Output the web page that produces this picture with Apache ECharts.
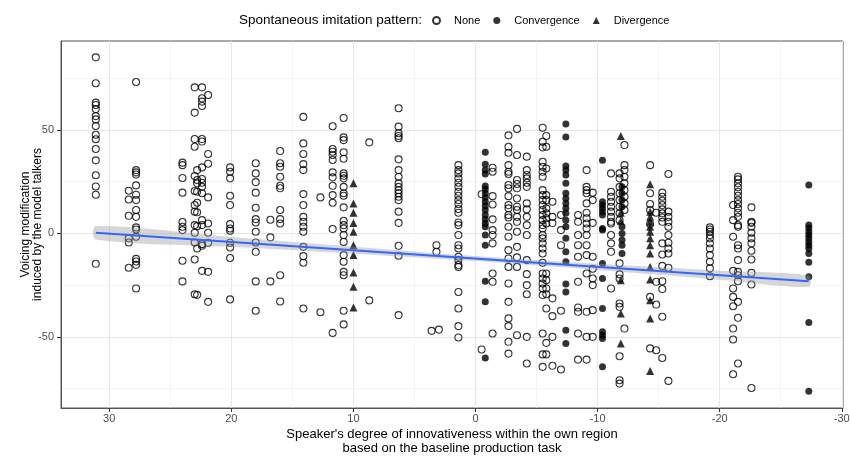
<!DOCTYPE html>
<html>
<head>
<meta charset="utf-8">
<script src="https://cdn.jsdelivr.net/npm/echarts@6/dist/echarts.min.js"></script>
<style>
  html, body { margin: 0; padding: 0; background: #fff; }
  #main { width: 850px; height: 458px; }
</style>
</head>
<body>
<div id="main"></div>
<script>
// axis ticks / gridlines
const xTicks = [30, 20, 10, 0, -10, -20, -30];
const xMinor = [25, 15, 5, -5, -15, -25];
const yTicks = [-50, 0, 50];
const yMinor = [-75, -25, 25, 75];

// "None" pattern: speaker x position, and the y values at that x
const noneX = [31.1, 27.8, 28.4, 24.0, 23.0, 22.8, 22.4, 21.9, 20.1, 18.0, 16.8, 16.0, 14.1, 12.7, 11.7, 10.8, 8.7, 6.3,
  3.6, 3.0, 3.2, 1.4, -0.5, -1.4, -2.7, -3.4, -4.2, -5.5, -5.8, -6.3, -7.0, -8.4, -9.1, -9.6, -11.1, -11.8, -12.2,
  -14.3, -14.8, -15.3, -15.8, -19.2, -21.1, -21.5, -22.6];
const noneY = [
  [85.1, 72.6, 63.2, 62.1, 60.1, 56.7, 55.1, 51.9, 47.7, 45.5, 40.8, 35.3, 28.1, 22.7, 18.7, -14.7],
  [73.2, 30.6, 29.5, 28.5, 23.2, 18.7, 16.1, 11.3, 8.0, 2.9, 1.9, -1.6, -12.3, -13.6, -15.2, -26.6],
  [20.6, 16.4, 8.5, -2.4, -4.4, -16.6],
  [34.2, 33.0, 26.8, 19.7, 5.5, 3.2, 1.6, -13.2, -23.2],
  [70.6, 58.4, 45.6, 41.9, 27.7, 20.5, 13.7, 10.5, 4.0, 0.3, -4.4, -12.6, -29.4],
  [30.6, 25.8, 24.2, 20.1, 14.8, 10.2, 3.5, -7.3, -29.7],
  [70.6, 65.3, 63.7, 61.6, 45.6, 44.4, 31.9, 26.3, 24.5, 22.5, 19.4, 6.4, 4.0, -5.2, -6.0, -18.1],
  [66.9, 38.4, 33.7, 17.4, 4.8, 0.3, -4.5, -18.6, -33.1],
  [31.9, 29.8, 26.6, 18.2, 13.7, 4.5, 2.4, 1.3, -4.5, -6.8, -11.9, -31.9],
  [33.9, 29.0, 24.8, 19.7, 12.4, 6.9, 5.3, 0.8, -4.4, -8.9, -23.2, -37.4],
  [6.6, -1.9, -23.2],
  [39.8, 33.9, 32.2, 27.4, 23.0, 21.8, 11.3, 6.9, 4.8, -20.2, -32.9],
  [56.3, 43.5, 38.4, 33.5, 30.6, 19.0, 13.7, 8.0, 5.6, 3.2, 0.8, -6.5, -11.0, -14.2, -36.3],
  [17.4, -38.1],
  [51.8, 40.8, 39.5, 37.9, 35.5, 29.5, 27.1, 23.0, 18.5, 14.8, 2.1, -48.1],
  [55.8, 46.4, 45.1, 39.2, 36.1, 29.0, 27.9, 26.6, 22.5, 19.4, 18.2, 12.6, 6.1, 4.0, 2.4, -0.8, -4.1, -10.5, -13.7, -18.6, -20.2, -37.4, -44.0],
  [44.0, -32.4],
  [60.5, 51.6, 48.4, 47.1, 46.0, 35.8, 30.6, 27.4, 24.2, 22.5, 20.9, 19.4, 17.7, 16.1, 10.5, 5.1, -6.0, -10.8, -39.5],
  [-47.1],
  [-46.5],
  [-5.7, -8.9],
  [33.0, 30.6, 29.0, 26.6, 24.5, 22.5, 20.1, 18.2, 16.1, 14.2, 11.8, 10.0, 5.3, 4.0, -0.8, -5.7, -7.3, -11.3, -12.9, -15.3, -16.2, -28.3, -36.3, -44.8, -50.3],
  [18.9, -56.1],
  [31.7, 29.8, 18.0, 14.0, 6.8, 1.6, -0.8, -4.8, -19.4, -23.4, -48.4],
  [47.4, 41.9, 39.0, 33.0, 29.8, 28.7, 23.4, 21.8, 18.0, 13.7, 12.1, 8.9, 7.7, 3.2, -1.6, -8.1, -12.1, -16.2, -24.2, -33.1, -41.1, -44.8, -52.4, -58.1],
  [50.5, 37.9, 25.8, 23.9, 21.8, 16.9, 12.9, 11.3, 8.0, 5.6, 0.8, -6.5, -11.6, -16.2, -49.2],
  [37.1, 30.6, 28.2, 26.6, 24.5, 22.5, 14.5, 11.6, 8.0, 4.0, -0.8, -12.9, -19.7, -25.0, -29.4, -50.0, -62.9],
  [51.1, 44.3, 41.6, 34.6, 32.2, 29.8, 27.4, 20.9, 18.5, 16.1, 13.7, 11.3, 8.9, 6.4, 4.0, 2.4, -0.8, -2.4, -4.8, -7.3, -9.7, -14.2, -19.4, -21.8, -24.2, -26.6, -29.8, -48.4, -58.5, -64.5],
  [47.1, 41.9, 31.4, 18.5, 16.1, 12.1, 9.7, 7.3, 4.8, -19.4, -22.6, -26.6, -29.4, -36.3, -52.9, -58.5],
  [15.3, 8.0, 5.0, -31.4, -40.0, -50.0, -64.0],
  [8.9, 1.6, -5.7, -37.4, -65.8],
  [8.9, 5.6, -0.8, -5.7, -11.3, -23.4, -35.8, -37.9, -48.4, -61.0],
  [30.6, 22.5, 20.9, 19.4, 14.5, 10.0, 7.3, 4.8, 2.4, -0.8, -5.7, -10.5, -19.4, -37.9, -50.0, -61.0],
  [19.7, 16.1, 5.1, -11.3, -17.1, -21.8, -25.0, -37.1, -50.0],
  [29.0, 20.1, 17.7, 15.3, 12.9, 10.5, 8.0, 5.6, 4.8, -0.8, -4.8, -8.9, -26.6],
  [29.0, 26.6, 22.5, 19.4, 16.1, 12.9, 9.7, 6.4, -14.5, -19.8, -21.8, -33.9, -35.5, -59.4, -71.0, -72.6],
  [42.7, 33.0, 30.6, 27.4, 24.2, 20.9, 17.7, 14.5, 11.3, -46.0],
  [33.0, 19.4, 14.2, 11.3, 4.5, -30.7, -55.6],
  [10.0, -23.4, -34.4, -56.5],
  [19.7, 17.7, 15.8, 13.7, 11.6, 9.7, 7.7, 5.6, -4.8, -10.2, -15.7, -23.1, -26.9, -40.3, -60.2],
  [28.7, 10.5, 8.0, 5.6, 3.2, -0.8, -4.5, -7.3, -9.7, -16.6, -71.3],
  [2.9, 1.9, 0.8, -0.8, -2.4, -4.8, -7.3, -10.5, -13.7, -16.9, -20.7],
  [13.7, 6.4, -1.6, -18.1, -26.6, -30.7, -35.2, -46.0, -51.3, -68.1],
  [27.4, 26.1, 24.2, 22.3, 20.1, 18.2, 16.1, 14.2, 12.1, 10.0, 8.0, 4.0, 3.2, -5.7, -7.3, -12.9, -18.6, -20.2, -23.1, -33.1, -40.8, -62.9],
  [12.6, 5.6, 5.1, 3.2, 0.3, -2.4, -4.8, -8.4, -12.6, -19.1, -24.7, -74.7]
];

// "Convergence" pattern
const convX = [-0.8, -7.4, -10.4, -12.0, -27.3];
const convY = [
  [39.2, 33.4, 30.6, 28.7, 22.9, 21.3, 19.4, 17.4, 15.3, 13.4, 11.3, 8.9, 6.8, 4.8, 3.2, -0.8, -5.7, -23.1, -33.1, -60.2],
  [52.9, 46.6, 32.6, 30.6, 28.2, 24.2, 19.4, 16.9, 14.5, 12.1, 9.7, 6.4, 3.2, -2.4, -8.9, -13.7, -24.5, -28.3, -46.8, -53.2],
  [35.3, 15.3, 13.7, 12.1, 10.5, 8.9, 2.4, 1.6, -14.5, -21.8, -36.3, -47.6, -49.2, -50.8, -64.5],
  [22.5, 19.4, 16.1, 12.9, 3.2, 0.0, -3.2, -5.7, -9.7],
  [23.4, 4.0, 2.6, 0.8, -0.8, -2.4, -4.1, -5.7, -7.3, -9.7, -14.0, -21.0, -43.1, -76.3]
];

// "Divergence" pattern
const divX = [10.0, -11.9, -14.3];
const divY = [
  [24.2, 14.5, 10.0, 5.0, 0.8, -5.7, -10.5, -18.9, -25.8, -35.8],
  [47.1, 10.0, 6.0, -22.6, -38.7, -53.2],
  [23.7, 10.5, 8.0, 5.6, 3.2, 0.8, -2.4, -5.7, -9.7, -16.2, -22.3, -32.3, -41.1, -66.5]
];

// linear fit and its confidence band
const regX = [31.1, -27.3];
const regY = [0.3, -23.1];
const bandX = [31.1, 20, 10, 0, -10, -20, -27.3];
const bandHi = [3.6, -1.7, -6.4, -10.9, -14.7, -18.0, -20.4];
const bandLo = [-2.9, -6.5, -9.8, -13.4, -17.7, -22.4, -25.8];

const FONT = 'Liberation Sans';

function toPairs(xs, ys) {
  const out = [];
  xs.forEach((x, i) => ys[i].forEach(y => out.push([x, y])));
  return out;
}

const chart = echarts.init(document.getElementById('main'));

const option = {
  animation: false,
  backgroundColor: '#ffffff',
  textStyle: { fontFamily: FONT },
  title: {
    text: 'Spontaneous imitation pattern:',
    left: 234,
    top: 8,
    textStyle: { fontSize: 13.5, fontWeight: 'normal', color: '#000', fontFamily: FONT }
  },
  legend: {
    left: 427,
    top: 10,
    itemWidth: 7,
    itemHeight: 7,
    itemGap: 13,
    data: ['None', 'Convergence', 'Divergence'],
    textStyle: { fontSize: 11, color: '#000', fontFamily: FONT, padding: [0, 0, 0, 9] }
  },
  grid: {
    left: 61, right: 7, top: 41, bottom: 50,
    outerBoundsMode: 'none',
    containLabel: false,
    show: true,
    borderColor: '#555',
    borderWidth: 1,
    backgroundColor: '#fff'
  },
  xAxis: {
    type: 'value',
    inverse: true,
    min: -30.1,
    max: 33.95,
    name: "Speaker's degree of innovativeness within the own region\nbased on the baseline production task",
    nameLocation: 'middle',
    nameGap: 19,
    nameMoveOverlap: false,
    nameTextStyle: { fontSize: 13, color: '#000', lineHeight: 14, fontFamily: FONT },
    splitLine: { show: false },
    axisLine: { show: true, onZero: false, lineStyle: { color: '#555' } },
    axisTick: { show: true, length: 4, customValues: xTicks, lineStyle: { color: '#333' } },
    axisLabel: { customValues: xTicks, margin: 5, fontSize: 11, color: '#4d4d4d', fontFamily: FONT }
  },
  yAxis: {
    type: 'value',
    min: -84.4,
    max: 93,
    name: 'Voicing modification\ninduced by the model talkers',
    nameLocation: 'middle',
    nameRotate: 90,
    nameGap: 17,
    nameMoveOverlap: false,
    nameTextStyle: { fontSize: 12, color: '#000', lineHeight: 12, fontFamily: FONT },
    splitLine: { show: false },
    axisLine: { show: true, onZero: false, lineStyle: { color: '#555' } },
    axisTick: { show: true, length: 4, customValues: yTicks, lineStyle: { color: '#333' } },
    axisLabel: { customValues: yTicks, margin: 7, fontSize: 11, color: '#4d4d4d', fontFamily: FONT }
  },
  series: [
    {
      // panel grid lines
      name: 'grid',
      type: 'scatter',
      data: [],
      z: 0,
      silent: true,
      markLine: {
        silent: true,
        z: 0,
        symbol: ['none', 'none'],
        label: { show: false },
        emphasis: { disabled: true },
        data: []
          .concat(xMinor.map(v => ({ xAxis: v, lineStyle: { color: '#ededed', width: 0.6, type: 'solid' } })))
          .concat(yMinor.map(v => ({ yAxis: v, lineStyle: { color: '#ededed', width: 0.6, type: 'solid' } })))
          .concat(xTicks.map(v => ({ xAxis: v, lineStyle: { color: '#e6e6e6', width: 1, type: 'solid' } })))
          .concat(yTicks.map(v => ({ yAxis: v, lineStyle: { color: '#e6e6e6', width: 1, type: 'solid' } })))
      }
    },
    {
      name: 'None',
      type: 'scatter',
      z: 3,
      symbol: 'circle',
      symbolSize: 7,
      itemStyle: { color: 'rgba(0,0,0,0)', borderColor: '#000', borderWidth: 1.1 },
      data: toPairs(noneX, noneY)
    },
    {
      name: 'Convergence',
      type: 'scatter',
      z: 4,
      symbol: 'circle',
      symbolSize: 7,
      itemStyle: { color: '#000' },
      data: toPairs(convX, convY)
    },
    {
      name: 'Divergence',
      type: 'scatter',
      z: 4,
      symbol: 'triangle',
      symbolSize: 8,
      itemStyle: { color: '#000' },
      data: toPairs(divX, divY)
    },
    {
      // confidence band
      type: 'custom',
      z: 5,
      silent: true,
      data: [0],
      renderItem: function (params, api) {
        const pts = [];
        bandX.forEach((x, i) => pts.push(api.coord([x, bandHi[i]])));
        for (let i = bandX.length - 1; i >= 0; i--) pts.push(api.coord([bandX[i], bandLo[i]]));
        return {
          type: 'polygon',
          shape: { points: pts, smooth: 0.3 },
          style: { fill: 'rgba(153,153,153,0.4)', stroke: 'none' }
        };
      }
    },
    {
      type: 'line',
      z: 6,
      silent: true,
      symbol: 'none',
      lineStyle: { color: '#3366ff', width: 2 },
      data: regX.map((x, i) => [x, regY[i]])
    }
  ]
};

chart.setOption(option);
</script>
</body>
</html>
